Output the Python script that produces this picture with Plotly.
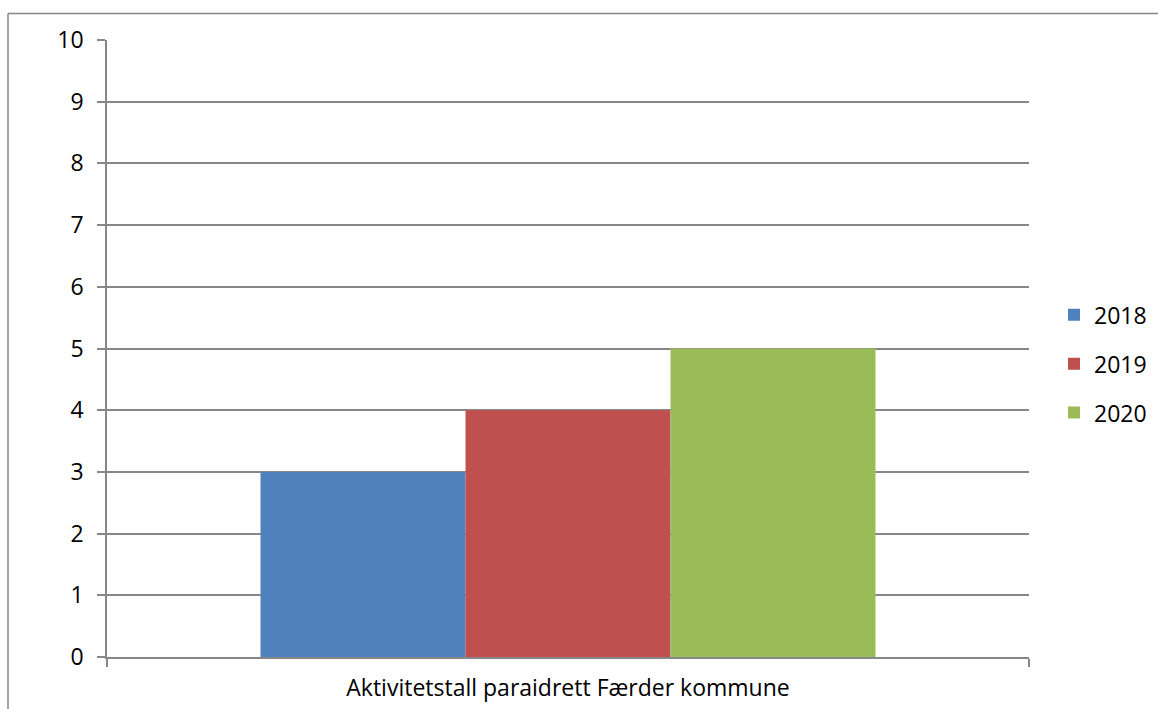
import plotly.graph_objects as go

categories = ["Aktivitetstall paraidrett Færder kommune"]
series_names = ["2018", "2019", "2020"]
values_2018 = [3]
values_2019 = [4]
values_2020 = [5]
colors = ["#4F81BD", "#C0504D", "#9BBB59"]
y_ticks = list(range(0, 11))

W, H = 1158, 709
L, R, T, B = 107, 1029, 39.5, 657

fig = go.Figure()
for name, vals, col in zip(series_names, [values_2018, values_2019, values_2020], colors):
    fig.add_trace(go.Bar(x=categories, y=vals, name=name, marker_color=col,
                         marker_line_width=0, legendgroup=name))

def px(x):
    return (x - L) / (R - L)

def py(y):
    return (B - y) / (B - T)

grid = "#878787"
FS = 23
fig.update_layout(
    width=W, height=H,
    margin=dict(l=L, r=W - R, t=T, b=H - B, pad=0, autoexpand=False),
    paper_bgcolor="white", plot_bgcolor="white",
    barmode="group", bargap=0.333, bargroupgap=0,
    font=dict(family="Open Sans, Noto Sans, sans-serif", size=FS, color="black"),
    showlegend=True,
    legend=dict(x=px(1054), y=py(293), xanchor="left", yanchor="top",
                traceorder="grouped", tracegroupgap=16,
                font=dict(size=FS), bgcolor="rgba(0,0,0,0)", itemwidth=30),
    xaxis=dict(showline=True, linecolor=grid, linewidth=1.5, ticks="outside",
               tickson="boundaries", ticklen=8, tickcolor=grid, tickwidth=1.5,
               showgrid=False, tickfont=dict(size=FS), automargin=False,
               ticklabelstandoff=10),
    yaxis=dict(range=[0, 10], tickvals=y_ticks, showline=True, linecolor=grid,
               linewidth=1.5, ticks="outside", ticklen=8, tickcolor=grid, tickwidth=1.5,
               showgrid=True, gridcolor=grid, gridwidth=1.5, zeroline=False,
               ticklabelstandoff=9, tickfont=dict(size=FS), automargin=False),
)

# outer chart border (top and left visible)
fig.add_shape(type="line", xref="paper", yref="paper",
              x0=px(8), x1=px(1160), y0=py(13), y1=py(13),
              line=dict(color=grid, width=1.5))
fig.add_shape(type="line", xref="paper", yref="paper",
              x0=px(8), x1=px(8), y0=py(13), y1=py(712),
              line=dict(color=grid, width=1.5))

fig.write_html("out.html")
